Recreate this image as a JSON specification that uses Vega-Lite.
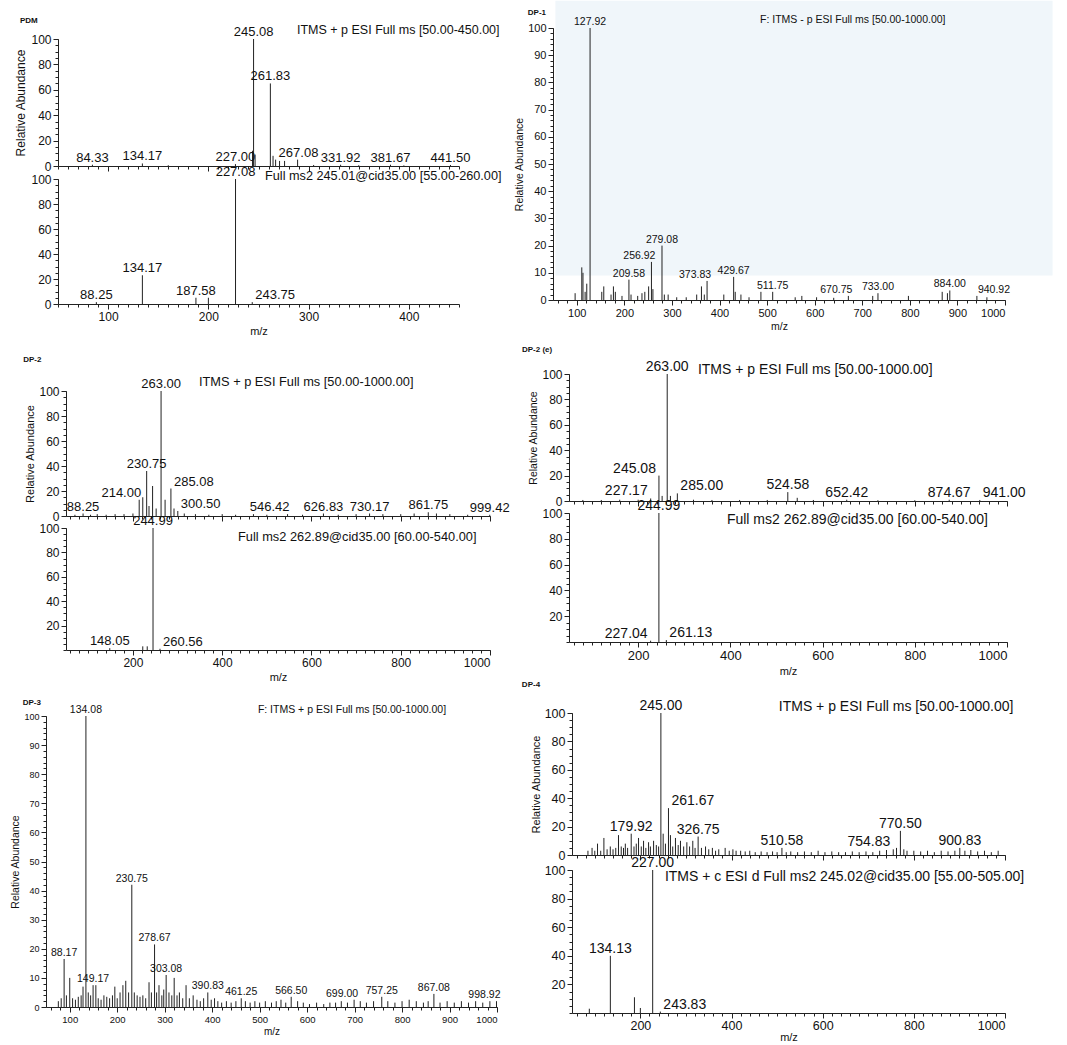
{
"$schema":"https://vega.github.io/schema/vega-lite/v6.json",
"width":1067,"height":1045,
"autosize":{"type":"none"},
"padding":0,
"background":"white",
"config":{
 "font":"Liberation Sans",
 "view":{"stroke":null},
 "axis":{"grid":false,"domainColor":"#222222","tickColor":"#222222","labelColor":"#111111","titleColor":"#111111","labelFontSize":12,"titleFontSize":12,"titleFontWeight":"normal","tickSize":5,"labelPadding":2,"titlePadding":3,"domainWidth":1,"tickWidth":1},
 "text":{"color":"#111111","font":"Liberation Sans"}
},
"datasets":{
 "pdm_ms":[
  {"mz":84.33,"ab":1,"label":"84.33"},{"mz":134.17,"ab":2,"label":"134.17"},{"mz":160,"ab":0.6},{"mz":227.0,"ab":1.5,"label":"227.00"},{"mz":244.0,"ab":12},{"mz":245.08,"ab":100,"label":"245.08"},{"mz":246.6,"ab":9},{"mz":261.83,"ab":65,"label":"261.83"},{"mz":264.5,"ab":8},{"mz":267.08,"ab":5,"label":"267.08"},{"mz":271,"ab":4},{"mz":276,"ab":4},{"mz":289,"ab":5},{"mz":305,"ab":0.8},{"mz":331.92,"ab":1,"label":"331.92"},{"mz":350,"ab":0.6},{"mz":381.67,"ab":1,"label":"381.67"},{"mz":395,"ab":0.5},{"mz":441.5,"ab":0.8,"label":"441.50"}
 ],
 "pdm_ms2":[
  {"mz":88.25,"ab":1.5,"label":"88.25"},{"mz":134.17,"ab":23,"label":"134.17"},{"mz":187.58,"ab":5,"label":"187.58"},{"mz":200,"ab":5},{"mz":227.08,"ab":100,"label":"227.08"},{"mz":243.75,"ab":1.5,"label":"243.75"}
 ],
 "dp1":[
  {"mz":96.5,"ab":2.5},{"mz":110.5,"ab":12},{"mz":113,"ab":10},{"mz":117.5,"ab":3},{"mz":121,"ab":6},{"mz":127.92,"ab":100,"label":"127.92"},{"mz":152.5,"ab":3},{"mz":156.7,"ab":5},{"mz":172,"ab":2},{"mz":177,"ab":5},{"mz":181,"ab":3},{"mz":195,"ab":1.5},{"mz":209.58,"ab":7.5,"label":"209.58"},{"mz":214,"ab":2},{"mz":228,"ab":1.5},{"mz":237,"ab":2.5},{"mz":243,"ab":3},{"mz":251,"ab":5},{"mz":256.92,"ab":14,"label":"256.92"},{"mz":260,"ab":4},{"mz":279.08,"ab":20,"label":"279.08"},{"mz":284,"ab":2},{"mz":292,"ab":2},{"mz":310,"ab":1},{"mz":330,"ab":1},{"mz":352,"ab":2},{"mz":362,"ab":5},{"mz":368,"ab":2},{"mz":373.83,"ab":7,"label":"373.83"},{"mz":409,"ab":2},{"mz":429.67,"ab":8.5,"label":"429.67"},{"mz":433,"ab":3},{"mz":445,"ab":2},{"mz":462,"ab":1},{"mz":487,"ab":3},{"mz":511.75,"ab":3,"label":"511.75"},{"mz":559,"ab":1},{"mz":573,"ab":1.5},{"mz":604,"ab":1},{"mz":640,"ab":0.8},{"mz":670.75,"ab":1.5,"label":"670.75"},{"mz":722,"ab":1.5},{"mz":733.0,"ab":2.5,"label":"733.00"},{"mz":797,"ab":1.5},{"mz":868,"ab":3},{"mz":879,"ab":2.5},{"mz":884.0,"ab":3.5,"label":"884.00"},{"mz":940.92,"ab":1.5,"label":"940.92"},{"mz":962,"ab":1}
 ],
 "dp2_ms":[
  {"mz":70,"ab":1},{"mz":88.25,"ab":2,"label":"88.25"},{"mz":105,"ab":1},{"mz":120,"ab":1.5},{"mz":140,"ab":1},{"mz":160,"ab":1.5},{"mz":180,"ab":1.5},{"mz":200,"ab":2},{"mz":214.0,"ab":13,"label":"214.00"},{"mz":222,"ab":15},{"mz":230.75,"ab":36,"label":"230.75"},{"mz":236,"ab":8},{"mz":244,"ab":24},{"mz":252,"ab":6},{"mz":263.0,"ab":100,"label":"263.00"},{"mz":272,"ab":13},{"mz":285.08,"ab":22,"label":"285.08"},{"mz":292,"ab":6},{"mz":300.5,"ab":4,"label":"300.50"},{"mz":315,"ab":2},{"mz":340,"ab":1.5},{"mz":370,"ab":1},{"mz":400,"ab":1.5},{"mz":430,"ab":1},{"mz":470,"ab":1.5},{"mz":500,"ab":1},{"mz":546.42,"ab":1.5,"label":"546.42"},{"mz":580,"ab":1},{"mz":626.83,"ab":2,"label":"626.83"},{"mz":660,"ab":1},{"mz":700,"ab":1.5},{"mz":730.17,"ab":2,"label":"730.17"},{"mz":760,"ab":1.5},{"mz":800,"ab":1.5},{"mz":830,"ab":2},{"mz":861.75,"ab":3,"label":"861.75"},{"mz":880,"ab":2},{"mz":910,"ab":1.5},{"mz":950,"ab":1},{"mz":999.42,"ab":1,"label":"999.42"}
 ],
 "dp2_ms2":[
  {"mz":148.05,"ab":1.5,"label":"148.05"},{"mz":222,"ab":3},{"mz":232,"ab":3},{"mz":244.99,"ab":100,"label":"244.99"},{"mz":260.56,"ab":1,"label":"260.56"}
 ],
 "dp2e_ms":[
  {"mz":80,"ab":0.8},{"mz":120,"ab":0.8},{"mz":160,"ab":1},{"mz":200,"ab":1},{"mz":227.17,"ab":2,"label":"227.17"},{"mz":245.08,"ab":20,"label":"245.08"},{"mz":252,"ab":4},{"mz":263.0,"ab":100,"label":"263.00"},{"mz":270,"ab":4},{"mz":285.0,"ab":6,"label":"285.00"},{"mz":320,"ab":1},{"mz":360,"ab":0.8},{"mz":420,"ab":0.8},{"mz":480,"ab":0.8},{"mz":524.58,"ab":7,"label":"524.58"},{"mz":545,"ab":2.5},{"mz":580,"ab":0.8},{"mz":652.42,"ab":1,"label":"652.42"},{"mz":720,"ab":0.6},{"mz":800,"ab":0.6},{"mz":874.67,"ab":1,"label":"874.67"},{"mz":941.0,"ab":0.8,"label":"941.00"}
 ],
 "dp2e_ms2":[
  {"mz":227.04,"ab":1,"label":"227.04"},{"mz":244.99,"ab":100,"label":"244.99"},{"mz":261.13,"ab":1.5,"label":"261.13"}
 ],
 "dp3":[
  {"mz":76,"ab":2},{"mz":82,"ab":3},{"mz":88.17,"ab":16.5,"label":"88.17"},{"mz":93,"ab":4},{"mz":100,"ab":10},{"mz":106,"ab":3},{"mz":112,"ab":2.5},{"mz":118,"ab":3.5},{"mz":124,"ab":4},{"mz":128,"ab":7},{"mz":134.08,"ab":100,"label":"134.08"},{"mz":139,"ab":5},{"mz":144,"ab":4},{"mz":149.17,"ab":7.5,"label":"149.17"},{"mz":155,"ab":7.5},{"mz":160,"ab":3},{"mz":166,"ab":2.5},{"mz":172,"ab":4},{"mz":178,"ab":3.5},{"mz":184,"ab":3},{"mz":190,"ab":4},{"mz":195,"ab":7},{"mz":200,"ab":3},{"mz":206,"ab":5},{"mz":212,"ab":7.5},{"mz":218,"ab":9},{"mz":224,"ab":5},{"mz":230.75,"ab":42,"label":"230.75"},{"mz":236,"ab":5},{"mz":242,"ab":4},{"mz":248,"ab":3.5},{"mz":254,"ab":4},{"mz":260,"ab":3},{"mz":267,"ab":8.5},{"mz":272,"ab":5},{"mz":278.67,"ab":21.5,"label":"278.67"},{"mz":283,"ab":5},{"mz":288,"ab":7.5},{"mz":294,"ab":4},{"mz":298,"ab":6},{"mz":303.08,"ab":11,"label":"303.08"},{"mz":309,"ab":5},{"mz":315,"ab":4},{"mz":320,"ab":10},{"mz":326,"ab":4},{"mz":331,"ab":5},{"mz":338,"ab":3},{"mz":345,"ab":7.5},{"mz":352,"ab":3},{"mz":360,"ab":4},{"mz":368,"ab":2.5},{"mz":375,"ab":2},{"mz":382,"ab":3},{"mz":390.83,"ab":5,"label":"390.83"},{"mz":398,"ab":2.5},{"mz":405,"ab":3},{"mz":412,"ab":2},{"mz":420,"ab":1.5},{"mz":430,"ab":2},{"mz":440,"ab":1.5},{"mz":450,"ab":2},{"mz":461.25,"ab":3,"label":"461.25"},{"mz":470,"ab":2},{"mz":480,"ab":1.5},{"mz":490,"ab":2},{"mz":500,"ab":1.5},{"mz":512,"ab":2},{"mz":525,"ab":1.5},{"mz":535,"ab":2},{"mz":545,"ab":2.5},{"mz":555,"ab":1.5},{"mz":566.5,"ab":3.5,"label":"566.50"},{"mz":580,"ab":2},{"mz":592,"ab":1.5},{"mz":605,"ab":1},{"mz":620,"ab":1.5},{"mz":635,"ab":1},{"mz":648,"ab":1.5},{"mz":660,"ab":1.5},{"mz":672,"ab":2},{"mz":685,"ab":1.5},{"mz":699.0,"ab":2.5,"label":"699.00"},{"mz":712,"ab":2},{"mz":725,"ab":1.5},{"mz":740,"ab":2},{"mz":757.25,"ab":3.5,"label":"757.25"},{"mz":770,"ab":2},{"mz":785,"ab":1.5},{"mz":800,"ab":2},{"mz":815,"ab":2.5},{"mz":830,"ab":2},{"mz":845,"ab":1.5},{"mz":855,"ab":2},{"mz":867.08,"ab":4.5,"label":"867.08"},{"mz":880,"ab":1.5},{"mz":895,"ab":2},{"mz":910,"ab":1.5},{"mz":925,"ab":2},{"mz":940,"ab":1.5},{"mz":955,"ab":2},{"mz":970,"ab":1.5},{"mz":985,"ab":2},{"mz":998.92,"ab":2,"label":"998.92"}
 ],
 "dp4_ms":[
  {"mz":85,"ab":3},{"mz":94,"ab":5},{"mz":100,"ab":3},{"mz":106,"ab":8},{"mz":113,"ab":3},{"mz":120,"ab":12},{"mz":127,"ab":4},{"mz":134,"ab":6},{"mz":140,"ab":4},{"mz":146,"ab":5},{"mz":152,"ab":14},{"mz":158,"ab":6},{"mz":163,"ab":5},{"mz":167,"ab":8},{"mz":172,"ab":5},{"mz":179.92,"ab":15,"label":"179.92"},{"mz":186,"ab":6},{"mz":191,"ab":8},{"mz":196,"ab":12},{"mz":202,"ab":6},{"mz":207,"ab":10},{"mz":212,"ab":5},{"mz":218,"ab":9},{"mz":222,"ab":6},{"mz":229,"ab":10},{"mz":235,"ab":7},{"mz":240,"ab":6},{"mz":245.0,"ab":100,"label":"245.00"},{"mz":250,"ab":15},{"mz":255,"ab":8},{"mz":261.67,"ab":33,"label":"261.67"},{"mz":266,"ab":14},{"mz":271,"ab":6},{"mz":277,"ab":12},{"mz":283,"ab":7},{"mz":288,"ab":10},{"mz":295,"ab":6},{"mz":302,"ab":9},{"mz":308,"ab":6},{"mz":315,"ab":10},{"mz":320,"ab":5},{"mz":326.75,"ab":13,"label":"326.75"},{"mz":334,"ab":5},{"mz":343,"ab":6},{"mz":350,"ab":4},{"mz":358,"ab":5},{"mz":365,"ab":3},{"mz":372,"ab":4},{"mz":386,"ab":5},{"mz":395,"ab":3},{"mz":403,"ab":4},{"mz":410,"ab":3},{"mz":420,"ab":3},{"mz":430,"ab":2.5},{"mz":440,"ab":3},{"mz":452,"ab":2},{"mz":465,"ab":2.5},{"mz":478,"ab":2},{"mz":490,"ab":2.5},{"mz":500,"ab":2},{"mz":510.58,"ab":5,"label":"510.58"},{"mz":520,"ab":2},{"mz":530,"ab":2.5},{"mz":545,"ab":2},{"mz":560,"ab":2.5},{"mz":575,"ab":2},{"mz":590,"ab":3},{"mz":605,"ab":2},{"mz":620,"ab":2.5},{"mz":635,"ab":2},{"mz":650,"ab":2},{"mz":665,"ab":2.5},{"mz":680,"ab":2},{"mz":695,"ab":2.5},{"mz":710,"ab":2},{"mz":725,"ab":3},{"mz":740,"ab":3.5},{"mz":754.83,"ab":4,"label":"754.83"},{"mz":762,"ab":5},{"mz":770.5,"ab":17,"label":"770.50"},{"mz":778,"ab":4},{"mz":785,"ab":3},{"mz":800,"ab":3},{"mz":815,"ab":2.5},{"mz":830,"ab":3},{"mz":845,"ab":2},{"mz":860,"ab":3},{"mz":875,"ab":2.5},{"mz":890,"ab":3},{"mz":900.83,"ab":5,"label":"900.83"},{"mz":912,"ab":3},{"mz":925,"ab":3.5},{"mz":940,"ab":2.5},{"mz":955,"ab":3},{"mz":970,"ab":2},{"mz":985,"ab":3}
 ],
 "dp4_ms2":[
  {"mz":88,"ab":3},{"mz":134.13,"ab":40,"label":"134.13"},{"mz":187,"ab":11},{"mz":200,"ab":3.5},{"mz":227.0,"ab":100,"label":"227.00"},{"mz":243.83,"ab":1,"label":"243.83"}
 ]
},
"layer":[
 {"data":{"name":"pdm_ms"},
  "layer":[
   {"mark":{"type":"rule","color":"#222222","strokeWidth":1},
    "encoding":{"x":{"field":"mz","type":"quantitative","scale":{"domain":[50,450],"range":[58,459],"nice":false,"zero":false},"axis":{"values":[100,200,300,400],"labels":false,"title":null,"orient":"bottom","offset":-879}},
     "y":{"field":"ab","type":"quantitative","scale":{"domain":[0,100],"range":[166,39],"nice":false,"zero":false},"axis":{"values":[0,20,40,60,80,100],"title":"Relative Abundance","orient":"left","offset":-58}},
     "y2":{"datum":0}}},
   {"mark":{"type":"text","baseline":"alphabetic","dy":-3,"fontSize":13},
    "transform":[{"filter":"datum.label && indexof(['267.08'], datum.label) < 0"}],
    "encoding":{"x":{"field":"mz","type":"quantitative","scale":{"domain":[50,450],"range":[58,459],"nice":false,"zero":false},"axis":{"tickCount":40,"labels":false,"domain":false,"title":null,"tickSize":3,"orient":"bottom","offset":-879}},
     "y":{"field":"ab","type":"quantitative","scale":{"domain":[0,100],"range":[166,39],"nice":false,"zero":false},"axis":{"tickCount":25,"labels":false,"domain":false,"title":null,"tickSize":3,"orient":"left","offset":-58}},
     "text":{"field":"label"}}},
   {"mark":{"type":"text","baseline":"alphabetic","align":"left","dx":3,"dy":-3,"fontSize":13},
    "transform":[{"filter":"indexof(['267.08'], datum.label) >= 0"}],
    "encoding":{"x":{"field":"mz","type":"quantitative","scale":{"domain":[50,450],"range":[58,459],"nice":false,"zero":false},"axis":null},
     "y":{"field":"ab","type":"quantitative","scale":{"domain":[0,100],"range":[166,39],"nice":false,"zero":false},"axis":null},"text":{"field":"label"}}},
   {"data":{"values":[{"note":"ITMS + p ESI Full ms [50.00-450.00]"}]},
    "mark":{"type":"text","align":"left","baseline":"middle","fontSize":12.5},
    "encoding":{"x":{"datum":288.4,"type":"quantitative","scale":{"domain":[50,450],"range":[58,459],"nice":false,"zero":false},"axis":null},
     "y":{"datum":107.1,"type":"quantitative","scale":{"domain":[0,100],"range":[166,39],"nice":false,"zero":false},"axis":null},"text":{"field":"note"}}},
   {"data":{"values":[{"note":"PDM"}]},
    "mark":{"type":"text","align":"left","baseline":"middle","fontSize":8,"fontWeight":"bold"},
    "encoding":{"x":{"datum":12,"type":"quantitative","scale":{"domain":[50,450],"range":[58,459],"nice":false,"zero":false},"axis":null},
     "y":{"datum":114,"type":"quantitative","scale":{"domain":[0,100],"range":[166,39],"nice":false,"zero":false},"axis":null},"text":{"field":"note"}}}
  ],
  "resolve":{"axis":{"x":"independent","y":"independent"}}},
 {"data":{"name":"pdm_ms2"},
  "layer":[
   {"mark":{"type":"rule","color":"#222222","strokeWidth":1},
    "encoding":{"x":{"field":"mz","type":"quantitative","scale":{"domain":[50,450],"range":[58,459],"nice":false,"zero":false},"axis":{"values":[100,200,300,400],"title":"m/z","titleFontSize":11,"orient":"bottom","offset":-741}},
     "y":{"field":"ab","type":"quantitative","scale":{"domain":[0,100],"range":[304,179],"nice":false,"zero":false},"axis":{"values":[0,20,40,60,80,100],"title":null,"orient":"left","offset":-58}},
     "y2":{"datum":0}}},
   {"mark":{"type":"text","baseline":"alphabetic","dy":-3,"fontSize":13},
    "transform":[{"filter":"datum.label && indexof(['243.75'], datum.label) < 0"}],
    "encoding":{"x":{"field":"mz","type":"quantitative","scale":{"domain":[50,450],"range":[58,459],"nice":false,"zero":false},"axis":{"tickCount":40,"labels":false,"domain":false,"title":null,"tickSize":3,"orient":"bottom","offset":-741}},
     "y":{"field":"ab","type":"quantitative","scale":{"domain":[0,100],"range":[304,179],"nice":false,"zero":false},"axis":{"tickCount":25,"labels":false,"domain":false,"title":null,"tickSize":3,"orient":"left","offset":-58}},
     "text":{"field":"label"}}},
   {"mark":{"type":"text","baseline":"alphabetic","align":"left","dx":3,"dy":-3,"fontSize":13},
    "transform":[{"filter":"indexof(['243.75'], datum.label) >= 0"}],
    "encoding":{"x":{"field":"mz","type":"quantitative","scale":{"domain":[50,450],"range":[58,459],"nice":false,"zero":false},"axis":null},
     "y":{"field":"ab","type":"quantitative","scale":{"domain":[0,100],"range":[304,179],"nice":false,"zero":false},"axis":null},"text":{"field":"label"}}},
   {"data":{"values":[{"note":"Full ms2 245.01@cid35.00 [55.00-260.00]"}]},
    "mark":{"type":"text","align":"left","baseline":"middle","fontSize":12.7},
    "encoding":{"x":{"datum":256.5,"type":"quantitative","scale":{"domain":[50,450],"range":[58,459],"nice":false,"zero":false},"axis":null},
     "y":{"datum":102.6,"type":"quantitative","scale":{"domain":[0,100],"range":[304,179],"nice":false,"zero":false},"axis":null},"text":{"field":"note"}}}
  ],
  "resolve":{"axis":{"x":"independent","y":"independent"}}},
 {"data":{"name":"dp1"},
  "layer":[
   {"data":{"values":[{"band":"tint"}]},
    "mark":{"type":"rect","color":"#f0f6fa"},
    "encoding":{"x":{"datum":55,"type":"quantitative","scale":{"domain":[50,1000],"range":[553,1005],"nice":false,"zero":false},"axis":null},"x2":{"datum":1100},
     "y":{"datum":9,"type":"quantitative","scale":{"domain":[0,100],"range":[300,28],"nice":false,"zero":false},"axis":null},"y2":{"datum":110}}},
   {"mark":{"type":"rule","color":"#222222","strokeWidth":1},
    "encoding":{"x":{"field":"mz","type":"quantitative","scale":{"domain":[50,1000],"range":[553,1005],"nice":false,"zero":false},"axis":{"values":[100,200,300,400,500,600,700,800,900,1000],"format":"d","title":"m/z","labelFontSize":11,"titleFontSize":10.5,"orient":"bottom","offset":-745}},
     "y":{"field":"ab","type":"quantitative","scale":{"domain":[0,100],"range":[300,28],"nice":false,"zero":false},"axis":{"values":[0,10,20,30,40,50,60,70,80,90,100],"title":"Relative Abundance","labelFontSize":11,"titleFontSize":10.5,"orient":"left","offset":-553}},
     "y2":{"datum":0}}},
   {"mark":{"type":"text","baseline":"alphabetic","dy":-3,"fontSize":10.5},
    "transform":[{"filter":"datum.label && indexof(['256.92','373.83','670.75','940.92'], datum.label) < 0"}],
    "encoding":{"x":{"field":"mz","type":"quantitative","scale":{"domain":[50,1000],"range":[553,1005],"nice":false,"zero":false},"axis":{"tickCount":50,"labels":false,"domain":false,"title":null,"tickSize":3,"orient":"bottom","offset":-745}},
     "y":{"field":"ab","type":"quantitative","scale":{"domain":[0,100],"range":[300,28],"nice":false,"zero":false},"axis":{"tickCount":50,"labels":false,"domain":false,"title":null,"tickSize":3,"orient":"left","offset":-553}},
     "text":{"field":"label"}}},
   {"mark":{"type":"text","baseline":"alphabetic","align":"right","dx":4,"dy":-3,"fontSize":10.5},
    "transform":[{"filter":"indexof(['256.92','373.83','670.75'], datum.label) >= 0"}],
    "encoding":{"x":{"field":"mz","type":"quantitative","scale":{"domain":[50,1000],"range":[553,1005],"nice":false,"zero":false},"axis":null},
     "y":{"field":"ab","type":"quantitative","scale":{"domain":[0,100],"range":[300,28],"nice":false,"zero":false},"axis":null},"text":{"field":"label"}}},
   {"mark":{"type":"text","baseline":"alphabetic","align":"left","dx":1,"dy":-3,"fontSize":10.5},
    "transform":[{"filter":"indexof(['940.92'], datum.label) >= 0"}],
    "encoding":{"x":{"field":"mz","type":"quantitative","scale":{"domain":[50,1000],"range":[553,1005],"nice":false,"zero":false},"axis":null},
     "y":{"field":"ab","type":"quantitative","scale":{"domain":[0,100],"range":[300,28],"nice":false,"zero":false},"axis":null},"text":{"field":"label"}}},
   {"data":{"values":[{"note":"F: ITMS - p ESI Full ms [50.00-1000.00]"}]},
    "mark":{"type":"text","align":"left","baseline":"middle","fontSize":10.5},
    "encoding":{"x":{"datum":485,"type":"quantitative","scale":{"domain":[50,1000],"range":[553,1005],"nice":false,"zero":false},"axis":null},
     "y":{"datum":102.9,"type":"quantitative","scale":{"domain":[0,100],"range":[300,28],"nice":false,"zero":false},"axis":null},"text":{"field":"note"}}},
   {"data":{"values":[{"note":"DP-1"}]},
    "mark":{"type":"text","align":"left","baseline":"middle","fontSize":8,"fontWeight":"bold"},
    "encoding":{"x":{"datum":-3,"type":"quantitative","scale":{"domain":[50,1000],"range":[553,1005],"nice":false,"zero":false},"axis":null},
     "y":{"datum":105.5,"type":"quantitative","scale":{"domain":[0,100],"range":[300,28],"nice":false,"zero":false},"axis":null},"text":{"field":"note"}}}
  ],
  "resolve":{"axis":{"x":"independent","y":"independent"}}},
 {"data":{"name":"dp2_ms"},
  "layer":[
   {"mark":{"type":"rule","color":"#222222","strokeWidth":1},
    "encoding":{"x":{"field":"mz","type":"quantitative","scale":{"domain":[50,1000],"range":[66,490],"nice":false,"zero":false},"axis":{"values":[200,400,600,800,1000],"labels":false,"title":null,"orient":"bottom","offset":-529}},
     "y":{"field":"ab","type":"quantitative","scale":{"domain":[0,100],"range":[516,391],"nice":false,"zero":false},"axis":{"values":[0,20,40,60,80,100],"title":"Relative Abundance","titleFontSize":11,"orient":"left","offset":-66}},
     "y2":{"datum":0}}},
   {"mark":{"type":"text","baseline":"alphabetic","dy":-3,"fontSize":13},
    "transform":[{"filter":"datum.label && indexof(['285.08','300.50','214.00','546.42'], datum.label) < 0"}],
    "encoding":{"x":{"field":"mz","type":"quantitative","scale":{"domain":[50,1000],"range":[66,490],"nice":false,"zero":false},"axis":{"tickCount":50,"labels":false,"domain":false,"title":null,"tickSize":3,"orient":"bottom","offset":-529}},
     "y":{"field":"ab","type":"quantitative","scale":{"domain":[0,100],"range":[516,391],"nice":false,"zero":false},"axis":{"tickCount":25,"labels":false,"domain":false,"title":null,"tickSize":3,"orient":"left","offset":-66}},
     "text":{"field":"label"}}},
   {"mark":{"type":"text","baseline":"alphabetic","align":"right","dx":2,"dy":-3,"fontSize":13},
    "transform":[{"filter":"indexof(['214.00','546.42'], datum.label) >= 0"}],
    "encoding":{"x":{"field":"mz","type":"quantitative","scale":{"domain":[50,1000],"range":[66,490],"nice":false,"zero":false},"axis":null},
     "y":{"field":"ab","type":"quantitative","scale":{"domain":[0,100],"range":[516,391],"nice":false,"zero":false},"axis":null},"text":{"field":"label"}}},
   {"mark":{"type":"text","baseline":"alphabetic","align":"left","dx":3,"dy":-3,"fontSize":13},
    "transform":[{"filter":"indexof(['285.08','300.50'], datum.label) >= 0"}],
    "encoding":{"x":{"field":"mz","type":"quantitative","scale":{"domain":[50,1000],"range":[66,490],"nice":false,"zero":false},"axis":null},
     "y":{"field":"ab","type":"quantitative","scale":{"domain":[0,100],"range":[516,391],"nice":false,"zero":false},"axis":null},"text":{"field":"label"}}},
   {"data":{"values":[{"note":"ITMS + p ESI Full ms [50.00-1000.00]"}]},
    "mark":{"type":"text","align":"left","baseline":"middle","fontSize":12.8},
    "encoding":{"x":{"datum":348,"type":"quantitative","scale":{"domain":[50,1000],"range":[66,490],"nice":false,"zero":false},"axis":null},
     "y":{"datum":107.2,"type":"quantitative","scale":{"domain":[0,100],"range":[516,391],"nice":false,"zero":false},"axis":null},"text":{"field":"note"}}},
   {"data":{"values":[{"note":"DP-2"}]},
    "mark":{"type":"text","align":"left","baseline":"middle","fontSize":8,"fontWeight":"bold"},
    "encoding":{"x":{"datum":-46,"type":"quantitative","scale":{"domain":[50,1000],"range":[66,490],"nice":false,"zero":false},"axis":null},
     "y":{"datum":124.8,"type":"quantitative","scale":{"domain":[0,100],"range":[516,391],"nice":false,"zero":false},"axis":null},"text":{"field":"note"}}}
  ],
  "resolve":{"axis":{"x":"independent","y":"independent"}}},
 {"data":{"name":"dp2_ms2"},
  "layer":[
   {"mark":{"type":"rule","color":"#222222","strokeWidth":1},
    "encoding":{"x":{"field":"mz","type":"quantitative","scale":{"domain":[50,1000],"range":[66,490],"nice":false,"zero":false},"axis":{"values":[200,400,600,800,1000],"format":"d","title":"m/z","titleFontSize":11,"orient":"bottom","offset":-395}},
     "y":{"field":"ab","type":"quantitative","scale":{"domain":[0,100],"range":[650,528],"nice":false,"zero":false},"axis":{"values":[20,40,60,80,100],"title":null,"orient":"left","offset":-66}},
     "y2":{"datum":0}}},
   {"mark":{"type":"text","baseline":"alphabetic","dy":-3,"fontSize":13},
    "transform":[{"filter":"datum.label && indexof(['260.56'], datum.label) < 0"}],
    "encoding":{"x":{"field":"mz","type":"quantitative","scale":{"domain":[50,1000],"range":[66,490],"nice":false,"zero":false},"axis":{"tickCount":50,"labels":false,"domain":false,"title":null,"tickSize":3,"orient":"bottom","offset":-395}},
     "y":{"field":"ab","type":"quantitative","scale":{"domain":[0,100],"range":[650,528],"nice":false,"zero":false},"axis":{"tickCount":25,"labels":false,"domain":false,"title":null,"tickSize":3,"orient":"left","offset":-66}},
     "text":{"field":"label"}}},
   {"mark":{"type":"text","baseline":"alphabetic","align":"left","dx":3,"dy":-3,"fontSize":13},
    "transform":[{"filter":"indexof(['260.56'], datum.label) >= 0"}],
    "encoding":{"x":{"field":"mz","type":"quantitative","scale":{"domain":[50,1000],"range":[66,490],"nice":false,"zero":false},"axis":null},
     "y":{"field":"ab","type":"quantitative","scale":{"domain":[0,100],"range":[650,528],"nice":false,"zero":false},"axis":null},"text":{"field":"label"}}},
   {"data":{"values":[{"note":"Full ms2 262.89@cid35.00 [60.00-540.00]"}]},
    "mark":{"type":"text","align":"left","baseline":"middle","fontSize":12.8},
    "encoding":{"x":{"datum":435.4,"type":"quantitative","scale":{"domain":[50,1000],"range":[66,490],"nice":false,"zero":false},"axis":null},
     "y":{"datum":92.6,"type":"quantitative","scale":{"domain":[0,100],"range":[650,528],"nice":false,"zero":false},"axis":null},"text":{"field":"note"}}}
  ],
  "resolve":{"axis":{"x":"independent","y":"independent"}}},
 {"data":{"name":"dp2e_ms"},
  "layer":[
   {"mark":{"type":"rule","color":"#222222","strokeWidth":1},
    "encoding":{"x":{"field":"mz","type":"quantitative","scale":{"domain":[50,1000],"range":[569,1007],"nice":false,"zero":false},"axis":{"values":[200,400,600,800,1000],"labels":false,"title":null,"orient":"bottom","offset":-544}},
     "y":{"field":"ab","type":"quantitative","scale":{"domain":[0,100],"range":[501,374],"nice":false,"zero":false},"axis":{"values":[0,20,40,60,80,100],"title":"Relative Abundance","labelFontSize":12,"titleFontSize":10.5,"orient":"left","offset":-569}},
     "y2":{"datum":0}}},
   {"mark":{"type":"text","baseline":"alphabetic","dy":-3,"fontSize":14},
    "transform":[{"filter":"datum.label && indexof(['227.17','245.08','285.00','941.00'], datum.label) < 0"}],
    "encoding":{"x":{"field":"mz","type":"quantitative","scale":{"domain":[50,1000],"range":[569,1007],"nice":false,"zero":false},"axis":{"tickCount":50,"labels":false,"domain":false,"title":null,"tickSize":3,"orient":"bottom","offset":-544}},
     "y":{"field":"ab","type":"quantitative","scale":{"domain":[0,100],"range":[501,374],"nice":false,"zero":false},"axis":{"tickCount":25,"labels":false,"domain":false,"title":null,"tickSize":3,"orient":"left","offset":-569}},
     "text":{"field":"label"}}},
   {"mark":{"type":"text","baseline":"alphabetic","align":"right","dx":-3,"dy":-3,"fontSize":14},
    "transform":[{"filter":"indexof(['227.17','245.08'], datum.label) >= 0"}],
    "encoding":{"x":{"field":"mz","type":"quantitative","scale":{"domain":[50,1000],"range":[569,1007],"nice":false,"zero":false},"axis":null},
     "y":{"field":"ab","type":"quantitative","scale":{"domain":[0,100],"range":[501,374],"nice":false,"zero":false},"axis":null},"text":{"field":"label"}}},
   {"mark":{"type":"text","baseline":"alphabetic","align":"left","dx":3,"dy":-3,"fontSize":14},
    "transform":[{"filter":"indexof(['285.00','941.00'], datum.label) >= 0"}],
    "encoding":{"x":{"field":"mz","type":"quantitative","scale":{"domain":[50,1000],"range":[569,1007],"nice":false,"zero":false},"axis":null},
     "y":{"field":"ab","type":"quantitative","scale":{"domain":[0,100],"range":[501,374],"nice":false,"zero":false},"axis":null},"text":{"field":"label"}}},
   {"data":{"values":[{"note":"ITMS + p ESI Full ms [50.00-1000.00]"}]},
    "mark":{"type":"text","align":"left","baseline":"middle","fontSize":14},
    "encoding":{"x":{"datum":329.6,"type":"quantitative","scale":{"domain":[50,1000],"range":[569,1007],"nice":false,"zero":false},"axis":null},
     "y":{"datum":103.1,"type":"quantitative","scale":{"domain":[0,100],"range":[501,374],"nice":false,"zero":false},"axis":null},"text":{"field":"note"}}},
   {"data":{"values":[{"note":"DP-2 (e)"}]},
    "mark":{"type":"text","align":"left","baseline":"middle","fontSize":8,"fontWeight":"bold"},
    "encoding":{"x":{"datum":-52,"type":"quantitative","scale":{"domain":[50,1000],"range":[569,1007],"nice":false,"zero":false},"axis":null},
     "y":{"datum":118.9,"type":"quantitative","scale":{"domain":[0,100],"range":[501,374],"nice":false,"zero":false},"axis":null},"text":{"field":"note"}}}
  ],
  "resolve":{"axis":{"x":"independent","y":"independent"}}},
 {"data":{"name":"dp2e_ms2"},
  "layer":[
   {"mark":{"type":"rule","color":"#222222","strokeWidth":1},
    "encoding":{"x":{"field":"mz","type":"quantitative","scale":{"domain":[50,1000],"range":[569,1007],"nice":false,"zero":false},"axis":{"values":[200,400,600,800,1000],"format":"d","title":"m/z","labelFontSize":13,"titleFontSize":11,"orient":"bottom","offset":-403}},
     "y":{"field":"ab","type":"quantitative","scale":{"domain":[0,100],"range":[642,513],"nice":false,"zero":false},"axis":{"values":[20,40,60,80,100],"title":null,"labelFontSize":12,"orient":"left","offset":-569}},
     "y2":{"datum":0}}},
   {"mark":{"type":"text","baseline":"alphabetic","dy":-3,"fontSize":14},
    "transform":[{"filter":"datum.label && indexof(['227.04','261.13'], datum.label) < 0"}],
    "encoding":{"x":{"field":"mz","type":"quantitative","scale":{"domain":[50,1000],"range":[569,1007],"nice":false,"zero":false},"axis":{"tickCount":50,"labels":false,"domain":false,"title":null,"tickSize":3,"orient":"bottom","offset":-403}},
     "y":{"field":"ab","type":"quantitative","scale":{"domain":[0,100],"range":[642,513],"nice":false,"zero":false},"axis":{"tickCount":25,"labels":false,"domain":false,"title":null,"tickSize":3,"orient":"left","offset":-569}},
     "text":{"field":"label"}}},
   {"mark":{"type":"text","baseline":"alphabetic","align":"right","dx":-3,"dy":-3,"fontSize":14},
    "transform":[{"filter":"indexof(['227.04'], datum.label) >= 0"}],
    "encoding":{"x":{"field":"mz","type":"quantitative","scale":{"domain":[50,1000],"range":[569,1007],"nice":false,"zero":false},"axis":null},
     "y":{"field":"ab","type":"quantitative","scale":{"domain":[0,100],"range":[642,513],"nice":false,"zero":false},"axis":null},"text":{"field":"label"}}},
   {"mark":{"type":"text","baseline":"alphabetic","align":"left","dx":3,"dy":-3,"fontSize":14},
    "transform":[{"filter":"indexof(['261.13'], datum.label) >= 0"}],
    "encoding":{"x":{"field":"mz","type":"quantitative","scale":{"domain":[50,1000],"range":[569,1007],"nice":false,"zero":false},"axis":null},
     "y":{"field":"ab","type":"quantitative","scale":{"domain":[0,100],"range":[642,513],"nice":false,"zero":false},"axis":null},"text":{"field":"label"}}},
   {"data":{"values":[{"note":"Full ms2 262.89@cid35.00 [60.00-540.00]"}]},
    "mark":{"type":"text","align":"left","baseline":"middle","fontSize":14},
    "encoding":{"x":{"datum":392.5,"type":"quantitative","scale":{"domain":[50,1000],"range":[569,1007],"nice":false,"zero":false},"axis":null},
     "y":{"datum":94.6,"type":"quantitative","scale":{"domain":[0,100],"range":[642,513],"nice":false,"zero":false},"axis":null},"text":{"field":"note"}}}
  ],
  "resolve":{"axis":{"x":"independent","y":"independent"}}},
 {"data":{"name":"dp3"},
  "layer":[
   {"mark":{"type":"rule","color":"#222222","strokeWidth":1},
    "encoding":{"x":{"field":"mz","type":"quantitative","scale":{"domain":[50,1000],"range":[46,497],"nice":false,"zero":false},"axis":{"values":[100,200,300,400,500,600,700,800,900,1000],"format":"d","title":"m/z","labelFontSize":9.5,"titleFontSize":10,"orient":"bottom","offset":-38}},
     "y":{"field":"ab","type":"quantitative","scale":{"domain":[0,100],"range":[1007,716],"nice":false,"zero":false},"axis":{"values":[0,10,20,30,40,50,60,70,80,90,100],"title":"Relative Abundance","labelFontSize":9,"titleFontSize":10.5,"orient":"left","offset":-46}},
     "y2":{"datum":0}}},
   {"mark":{"type":"text","baseline":"alphabetic","dy":-3,"fontSize":10.5},
    "transform":[{"filter":"datum.label && indexof(['699.00','998.92'], datum.label) < 0"}],
    "encoding":{"x":{"field":"mz","type":"quantitative","scale":{"domain":[50,1000],"range":[46,497],"nice":false,"zero":false},"axis":{"tickCount":50,"labels":false,"domain":false,"title":null,"tickSize":3,"orient":"bottom","offset":-38}},
     "y":{"field":"ab","type":"quantitative","scale":{"domain":[0,100],"range":[1007,716],"nice":false,"zero":false},"axis":{"tickCount":50,"labels":false,"domain":false,"title":null,"tickSize":3,"orient":"left","offset":-46}},
     "text":{"field":"label"}}},
   {"mark":{"type":"text","baseline":"alphabetic","align":"right","dx":4,"dy":-3,"fontSize":10.5},
    "transform":[{"filter":"indexof(['699.00','998.92'], datum.label) >= 0"}],
    "encoding":{"x":{"field":"mz","type":"quantitative","scale":{"domain":[50,1000],"range":[46,497],"nice":false,"zero":false},"axis":null},
     "y":{"field":"ab","type":"quantitative","scale":{"domain":[0,100],"range":[1007,716],"nice":false,"zero":false},"axis":null},"text":{"field":"label"}}},
   {"data":{"values":[{"note":"F: ITMS + p ESI Full ms [50.00-1000.00]"}]},
    "mark":{"type":"text","align":"left","baseline":"middle","fontSize":10.5},
    "encoding":{"x":{"datum":496.3,"type":"quantitative","scale":{"domain":[50,1000],"range":[46,497],"nice":false,"zero":false},"axis":null},
     "y":{"datum":102.1,"type":"quantitative","scale":{"domain":[0,100],"range":[1007,716],"nice":false,"zero":false},"axis":null},"text":{"field":"note"}}},
   {"data":{"values":[{"note":"DP-3"}]},
    "mark":{"type":"text","align":"left","baseline":"middle","fontSize":8,"fontWeight":"bold"},
    "encoding":{"x":{"datum":1,"type":"quantitative","scale":{"domain":[50,1000],"range":[46,497],"nice":false,"zero":false},"axis":null},
     "y":{"datum":104.5,"type":"quantitative","scale":{"domain":[0,100],"range":[1007,716],"nice":false,"zero":false},"axis":null},"text":{"field":"note"}}}
  ],
  "resolve":{"axis":{"x":"independent","y":"independent"}}},
 {"data":{"name":"dp4_ms"},
  "layer":[
   {"mark":{"type":"rule","color":"#222222","strokeWidth":1},
    "encoding":{"x":{"field":"mz","type":"quantitative","scale":{"domain":[50,1000],"range":[572,1005],"nice":false,"zero":false},"axis":{"values":[200,400,600,800,1000],"labels":false,"title":null,"orient":"bottom","offset":-190}},
     "y":{"field":"ab","type":"quantitative","scale":{"domain":[0,100],"range":[855,713],"nice":false,"zero":false},"axis":{"values":[0,20,40,60,80,100],"title":"Relative Abundance","labelFontSize":12.5,"titleFontSize":11,"orient":"left","offset":-572}},
     "y2":{"datum":0}}},
   {"mark":{"type":"text","baseline":"alphabetic","dy":-3,"fontSize":14},
    "transform":[{"filter":"datum.label && indexof(['754.83','261.67'], datum.label) < 0"}],
    "encoding":{"x":{"field":"mz","type":"quantitative","scale":{"domain":[50,1000],"range":[572,1005],"nice":false,"zero":false},"axis":{"tickCount":50,"labels":false,"domain":false,"title":null,"tickSize":3,"orient":"bottom","offset":-190}},
     "y":{"field":"ab","type":"quantitative","scale":{"domain":[0,100],"range":[855,713],"nice":false,"zero":false},"axis":{"tickCount":25,"labels":false,"domain":false,"title":null,"tickSize":3,"orient":"left","offset":-572}},
     "text":{"field":"label"}}},
   {"mark":{"type":"text","baseline":"alphabetic","align":"right","dx":-3,"dy":-3,"fontSize":14},
    "transform":[{"filter":"indexof(['754.83'], datum.label) >= 0"}],
    "encoding":{"x":{"field":"mz","type":"quantitative","scale":{"domain":[50,1000],"range":[572,1005],"nice":false,"zero":false},"axis":null},
     "y":{"field":"ab","type":"quantitative","scale":{"domain":[0,100],"range":[855,713],"nice":false,"zero":false},"axis":null},"text":{"field":"label"}}},
   {"mark":{"type":"text","baseline":"alphabetic","align":"left","dx":3,"dy":-3,"fontSize":14},
    "transform":[{"filter":"indexof(['261.67'], datum.label) >= 0"}],
    "encoding":{"x":{"field":"mz","type":"quantitative","scale":{"domain":[50,1000],"range":[572,1005],"nice":false,"zero":false},"axis":null},
     "y":{"field":"ab","type":"quantitative","scale":{"domain":[0,100],"range":[855,713],"nice":false,"zero":false},"axis":null},"text":{"field":"label"}}},
   {"data":{"values":[{"note":"ITMS + p ESI Full ms [50.00-1000.00]"}]},
    "mark":{"type":"text","align":"left","baseline":"middle","fontSize":14},
    "encoding":{"x":{"datum":503.7,"type":"quantitative","scale":{"domain":[50,1000],"range":[572,1005],"nice":false,"zero":false},"axis":null},
     "y":{"datum":104.2,"type":"quantitative","scale":{"domain":[0,100],"range":[855,713],"nice":false,"zero":false},"axis":null},"text":{"field":"note"}}},
   {"data":{"values":[{"note":"DP-4"}]},
    "mark":{"type":"text","align":"left","baseline":"middle","fontSize":8,"fontWeight":"bold"},
    "encoding":{"x":{"datum":-60,"type":"quantitative","scale":{"domain":[50,1000],"range":[572,1005],"nice":false,"zero":false},"axis":null},
     "y":{"datum":119.7,"type":"quantitative","scale":{"domain":[0,100],"range":[855,713],"nice":false,"zero":false},"axis":null},"text":{"field":"note"}}}
  ],
  "resolve":{"axis":{"x":"independent","y":"independent"}}},
 {"data":{"name":"dp4_ms2"},
  "layer":[
   {"mark":{"type":"rule","color":"#222222","strokeWidth":1},
    "encoding":{"x":{"field":"mz","type":"quantitative","scale":{"domain":[50,1000],"range":[572,1005],"nice":false,"zero":false},"axis":{"values":[200,400,600,800,1000],"format":"d","title":"m/z","labelFontSize":12.5,"titleFontSize":11,"labelPadding":1,"titlePadding":0,"orient":"bottom","offset":-32}},
     "y":{"field":"ab","type":"quantitative","scale":{"domain":[0,100],"range":[1013,870],"nice":false,"zero":false},"axis":{"values":[20,40,60,80,100],"title":null,"labelFontSize":12.5,"orient":"left","offset":-572}},
     "y2":{"datum":0}}},
   {"mark":{"type":"text","baseline":"alphabetic","dy":-3,"fontSize":14},
    "transform":[{"filter":"datum.label && indexof(['243.83'], datum.label) < 0"}],
    "encoding":{"x":{"field":"mz","type":"quantitative","scale":{"domain":[50,1000],"range":[572,1005],"nice":false,"zero":false},"axis":{"tickCount":50,"labels":false,"domain":false,"title":null,"tickSize":3,"orient":"bottom","offset":-32}},
     "y":{"field":"ab","type":"quantitative","scale":{"domain":[0,100],"range":[1013,870],"nice":false,"zero":false},"axis":{"tickCount":25,"labels":false,"domain":false,"title":null,"tickSize":3,"orient":"left","offset":-572}},
     "text":{"field":"label"}}},
   {"mark":{"type":"text","baseline":"alphabetic","align":"left","dx":3,"dy":-3,"fontSize":14},
    "transform":[{"filter":"indexof(['243.83'], datum.label) >= 0"}],
    "encoding":{"x":{"field":"mz","type":"quantitative","scale":{"domain":[50,1000],"range":[572,1005],"nice":false,"zero":false},"axis":null},
     "y":{"field":"ab","type":"quantitative","scale":{"domain":[0,100],"range":[1013,870],"nice":false,"zero":false},"axis":null},"text":{"field":"label"}}},
   {"data":{"values":[{"note":"ITMS + c ESI d Full ms2 245.02@cid35.00 [55.00-505.00]"}]},
    "mark":{"type":"text","align":"left","baseline":"middle","fontSize":14},
    "encoding":{"x":{"datum":253.8,"type":"quantitative","scale":{"domain":[50,1000],"range":[572,1005],"nice":false,"zero":false},"axis":null},
     "y":{"datum":95.1,"type":"quantitative","scale":{"domain":[0,100],"range":[1013,870],"nice":false,"zero":false},"axis":null},"text":{"field":"note"}}}
  ],
  "resolve":{"axis":{"x":"independent","y":"independent"}}}
],
"resolve":{"scale":{"x":"independent","y":"independent"},"axis":{"x":"independent","y":"independent"}}
}
